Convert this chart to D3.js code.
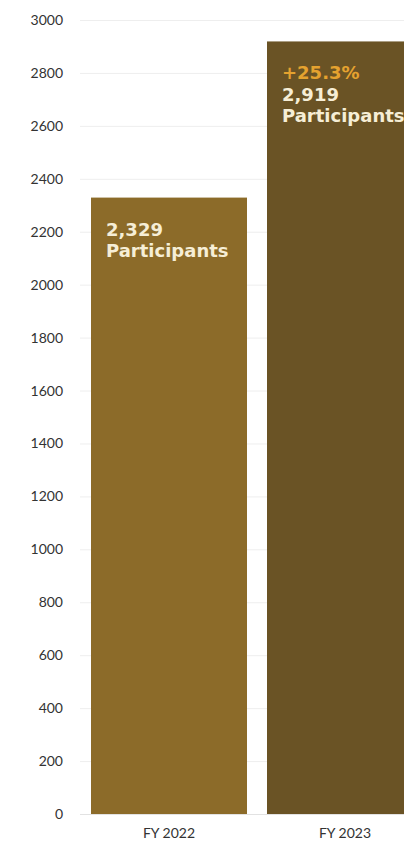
<!DOCTYPE html>
<html>
<head>
<meta charset="utf-8">
<script src="https://cdn.jsdelivr.net/npm/d3@7"></script>
<style>
  html, body { margin: 0; padding: 0; background: #fff; }
  svg { display: block; }
</style>
</head>
<body>
<svg id="chart" width="404" height="846"></svg>
<script>
// Participant counts by fiscal year
const categories = ["FY 2022", "FY 2023"];
const participants = [2329, 2919];
const barColors = ["#8c6b29", "#6a5325"];
const changeLabels = [null, "+25.3%"];
const yTicks = [0, 200, 400, 600, 800, 1000, 1200, 1400, 1600, 1800, 2000, 2200, 2400, 2600, 2800, 3000];

const svg = d3.select("#chart");
const W = 404;

const y = d3.scaleLinear().domain([0, 3000]).range([814, 20]);
const x = d3.scaleBand()
  .domain(categories)
  .range([80, 434])
  .paddingInner(20 / 176)
  .paddingOuter(11 / 176);

// gridlines
svg.append("g")
  .selectAll("line")
  .data(yTicks)
  .join("line")
  .attr("x1", 80)
  .attr("x2", W)
  .attr("y1", d => y(d) + 0.5)
  .attr("y2", d => y(d) + 0.5)
  .attr("stroke", d => d === 0 ? "#e2e2e2" : "#eeeeee")
  .attr("stroke-width", 1);

// y axis labels
const yAxis = d3.axisLeft(y).tickValues(yTicks).tickSize(0).tickPadding(0).tickFormat(d3.format("d"));
svg.append("g")
  .attr("transform", "translate(63,0)")
  .call(yAxis)
  .call(g => g.select(".domain").remove())
  .call(g => g.selectAll("text")
    .attr("font-family", "Lato, sans-serif")
    .attr("font-size", 14)
    .attr("fill", "#333"));

// bars
svg.append("g")
  .selectAll("rect")
  .data(categories)
  .join("rect")
  .attr("x", d => x(d))
  .attr("y", (d, i) => y(participants[i]))
  .attr("width", x.bandwidth())
  .attr("height", (d, i) => y(0) - y(participants[i]))
  .attr("fill", (d, i) => barColors[i]);

// x axis labels
const xAxis = d3.axisBottom(x).tickSize(0).tickPadding(0);
svg.append("g")
  .attr("transform", "translate(0,828)")
  .call(xAxis)
  .call(g => g.select(".domain").remove())
  .call(g => g.selectAll("text")
    .attr("font-family", "Lato, sans-serif")
    .attr("font-size", 14)
    .attr("fill", "#333"));

// in-bar labels
const fmt = d3.format(",");
categories.forEach((c, i) => {
  const lx = x(c) + 15;
  const top = y(participants[i]);
  const lines = [];
  if (changeLabels[i]) lines.push({ t: changeLabels[i], c: "#e5a22f" });
  lines.push({ t: fmt(participants[i]), c: "#f6eed6" });
  lines.push({ t: "Participants", c: "#f6eed6" });
  const g = svg.append("g");
  lines.forEach((ln, k) => {
    g.append("text")
      .attr("x", lx)
      .attr("y", top + 38 + k * 21.5)
      .attr("font-family", "'DejaVu Sans', sans-serif")
      .attr("font-weight", 700)
      .attr("font-size", 18)
      .attr("fill", ln.c)
      .text(ln.t);
  });
});
</script>
</body>
</html>
